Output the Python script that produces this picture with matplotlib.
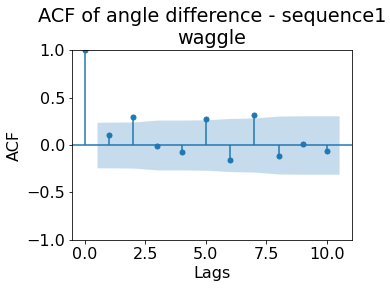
import numpy as np
import matplotlib
matplotlib.use("Agg")
import matplotlib.pyplot as plt

# ACF values
lags = [0, 1, 2, 3, 4, 5, 6, 7, 8, 9, 10]
acf_vals = [1.0, 0.11, 0.30, -0.015, -0.077, 0.27, -0.16, 0.32, -0.12, 0.006, -0.067]
# half-width of the confidence band at lags 1..10
band = [0.24, 0.243, 0.263, 0.263, 0.266, 0.28, 0.285, 0.305, 0.308, 0.308]

plt.rcParams['font.size'] = 16

fig = plt.figure(figsize=(390 / 72, 288 / 72), dpi=72)
ax = fig.add_axes([0.185, 0.167, 0.717, 0.659])

ax.vlines(lags, 0, acf_vals, color='C0', lw=1.5)
ax.plot(lags, acf_vals, 'o', color='C0', markersize=5)
ax.axhline(0, color='C0', lw=1.5)

band_x = np.array(lags[1:], dtype=float)
band_x[0] -= 0.5
band_x[-1] += 0.5
ax.fill_between(band_x, [-b for b in band], band, alpha=0.25, lw=0, color='C0')

ax.set_xlim(-0.525, 11.025)
ax.set_ylim(-1, 1)
ax.set_xticks([0, 2.5, 5, 7.5, 10])
ax.set_yticks([-1, -0.5, 0, 0.5, 1])
ax.set_title('ACF of angle difference - sequence1\nwaggle')
ax.set_xlabel('Lags')
ax.set_ylabel('ACF')

fig.savefig('out.png', dpi=72, facecolor='white')
